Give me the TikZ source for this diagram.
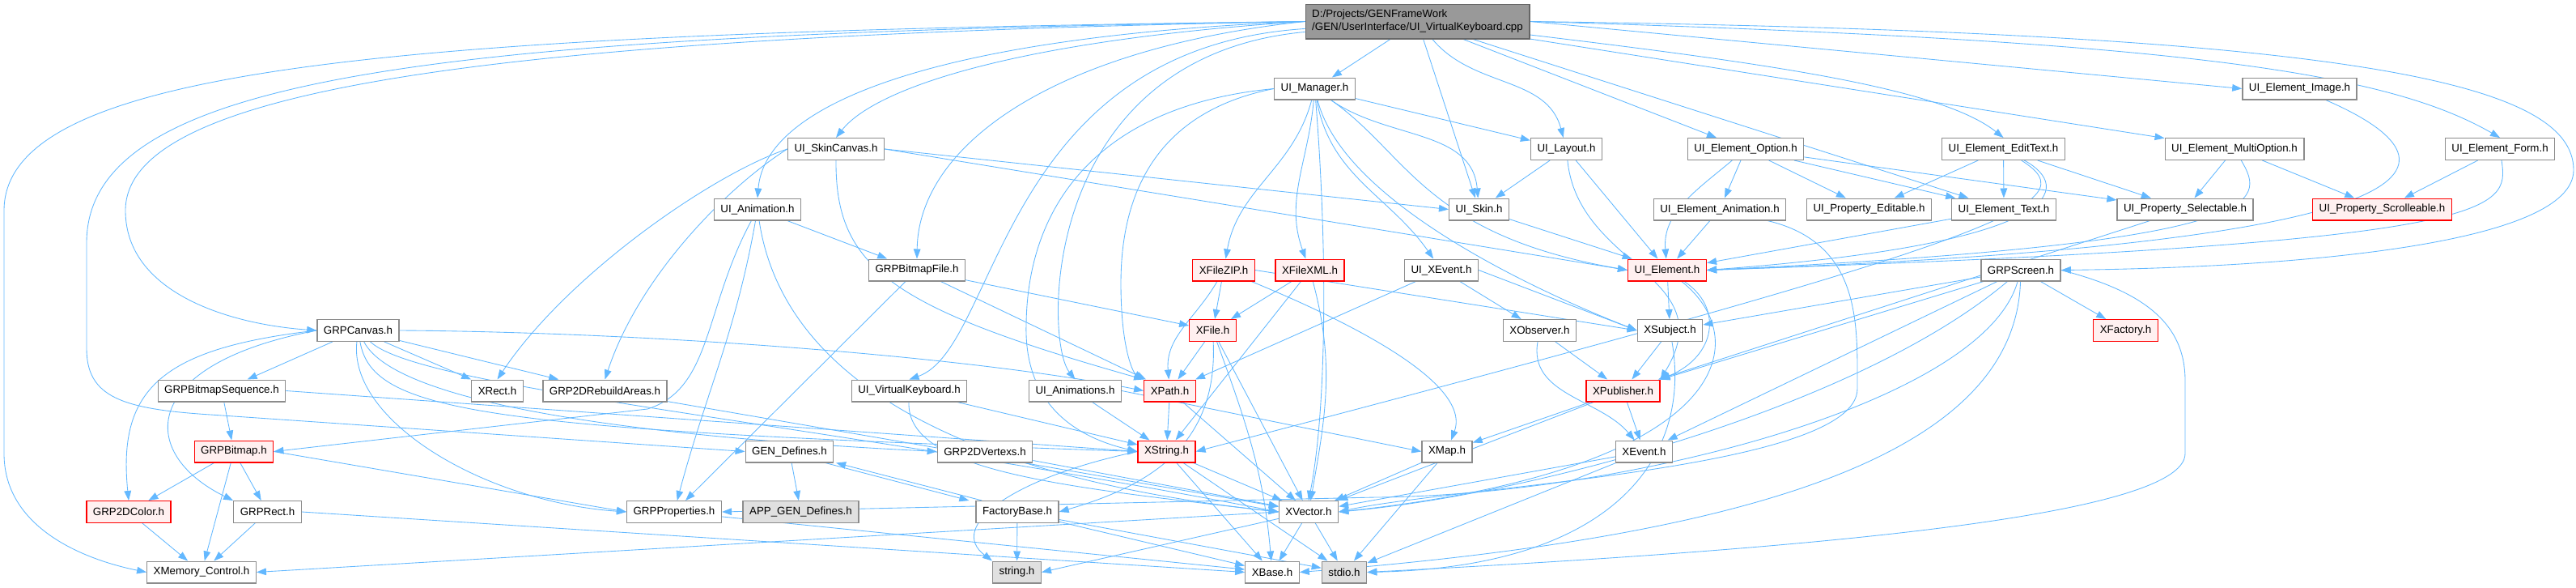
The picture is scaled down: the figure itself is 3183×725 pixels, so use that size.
\documentclass[tikz,border=0pt]{standalone}
\usepackage{fontspec}
\setmainfont{Liberation Sans}
\usetikzlibrary{arrows.meta,backgrounds}
\definecolor{depblue}{HTML}{63B8FF}
\definecolor{boxgray}{HTML}{8C8C8C}
\definecolor{redfill}{HTML}{FFF0F0}
\definecolor{sysfill}{HTML}{E0E0E0}
\definecolor{rootfill}{HTML}{999999}
\definecolor{rootline}{HTML}{666666}

\begin{document}
\begin{tikzpicture}[x=0.75pt,y=-0.75pt,
    every node/.style={font=\fontsize{10}{12}\selectfont},
    hdr/.style={draw=boxgray, fill=white, line width=1pt, inner xsep=6pt, inner ysep=0pt, minimum height=20pt},
    hdrred/.style={hdr, draw=red, fill=redfill},
    hdrsys/.style={hdr, fill=sysfill},
    hdrroot/.style={hdr, draw=rootline, fill=rootfill, align=left, minimum height=32pt},
    dep/.style={draw=depblue, line width=0.65pt, -{Triangle[length=9pt,width=6.5pt]}}]
    \useasboundingbox (0,0) rectangle (3183,725);
    % row 0-1
    \node[hdrroot] (root) at (1751.5,26.5) {D:/Projects/GENFrameWork\\/GEN/UserInterface/UI\_VirtualKeyboard.cpp};
    \node[hdr] (mgr) at (1624.5,109.5) {UI\_Manager.h};
    \node[hdr] (elimg) at (2841.5,109.5) {UI\_Element\_Image.h};
    % row 2
    \node[hdr] (skincv) at (1033,184) {UI\_SkinCanvas.h};
    \node[hdr] (layout) at (1935.5,184) {UI\_Layout.h};
    \node[hdr] (elopt) at (2157,184) {UI\_Element\_Option.h};
    \node[hdr] (eledit) at (2475.5,184) {UI\_Element\_EditText.h};
    \node[hdr] (elmulti) at (2761,184) {UI\_Element\_MultiOption.h};
    \node[hdr] (elform) at (3089,184) {UI\_Element\_Form.h};
    % row 3
    \node[hdr] (anim) at (936,258.5) {UI\_Animation.h};
    \node[hdr] (skin) at (1827.5,258.5) {UI\_Skin.h};
    \node[hdr] (elanim) at (2125,258.5) {UI\_Element\_Animation.h};
    \node[hdr] (peditable) at (2309.5,258.5) {UI\_Property\_Editable.h};
    \node[hdr] (eltext) at (2476,258.5) {UI\_Element\_Text.h};
    \node[hdr] (pselect) at (2700,258.5) {UI\_Property\_Selectable.h};
    \node[hdrred] (pscroll) at (2943.5,258.5) {UI\_Property\_Scrolleable.h};
    % row 4
    \node[hdr] (bmpfile) at (1133,333.5) {GRPBitmapFile.h};
    \node[hdrred] (xzip) at (1512,333.5) {XFileZIP.h};
    \node[hdrred] (xxml) at (1618.5,333.5) {XFileXML.h};
    \node[hdr] (xevent) at (1781,333.5) {UI\_XEvent.h};
    \node[hdrred] (uielem) at (2060,333.5) {UI\_Element.h};
    \node[hdr] (screen) at (2497,333.5) {GRPScreen.h};
    % row 5
    \node[hdr] (canvas) at (442.5,408) {GRPCanvas.h};
    \node[hdrred] (xfile) at (1498.5,408) {XFile.h};
    \node[hdr] (xobs) at (1902.5,408) {XObserver.h};
    \node[hdr] (xsubj) at (2063.5,408) {XSubject.h};
    \node[hdrred] (xfactory) at (2626.5,408) {XFactory.h};
    % row 6
    \node[hdr] (bmpseq) at (274,482.5) {GRPBitmapSequence.h};
    \node[hdr] (xrect) at (614.5,482.5) {XRect.h};
    \node[hdr] (rebuild) at (747.5,482.5) {GRP2DRebuildAreas.h};
    \node[hdr] (vkbd) at (1123.5,482.5) {UI\_VirtualKeyboard.h};
    \node[hdr] (anims) at (1328.5,482.5) {UI\_Animations.h};
    \node[hdrred] (xpath) at (1445.5,482.5) {XPath.h};
    \node[hdrred] (xpub) at (2005.5,482.5) {XPublisher.h};
    % row 7
    \node[hdrred] (bitmap) at (289,557.5) {GRPBitmap.h};
    \node[hdr] (gendef) at (975.5,557.5) {GEN\_Defines.h};
    \node[hdr] (vertex) at (1217,557.5) {GRP2DVertexs.h};
    \node[hdrred] (xstring) at (1441.5,557.5) {XString.h};
    \node[hdr] (xmap) at (1788,557.5) {XMap.h};
    \node[hdr] (xev) at (2031.5,557.5) {XEvent.h};
    % row 8
    \node[hdrred] (color) at (159,632) {GRP2DColor.h};
    \node[hdr] (grect) at (330.5,632) {GRPRect.h};
    \node[hdr] (props) at (833,632) {GRPProperties.h};
    \node[hdrsys] (appgen) at (989.5,632) {APP\_GEN\_Defines.h};
    \node[hdr] (factory) at (1257,632) {FactoryBase.h};
    \node[hdr] (xvector) at (1617,632) {XVector.h};
    % row 9
    \node[hdr] (xmem) at (249,706.5) {XMemory\_Control.h};
    \node[hdrsys] (string) at (1256.5,706.5) {string.h};
    \node[hdr] (xbase) at (1572,706.5) {XBase.h};
    \node[hdrsys] (stdio) at (1661,706.5) {stdio.h};

    \begin{scope}[on background layer]
    % from the .cpp
    \draw[dep] (root) -- (mgr);
    \draw[dep] (root) -- (skin);
    \draw[dep] (root) to[out=-50,in=105] (layout);
    \draw[dep] (root) -- (elopt);
    \draw[dep] (root) -- (eltext);
    \draw[dep] (root) .. controls (2200,80) and (2400,110) .. (eledit.north);
    \draw[dep] (root) -- (elmulti);
    \draw[dep] (root.east) -- (elimg.west);
    \draw[dep] (root.east) .. controls (2700,50) and (2950,90) .. (elform.north);
    \draw[dep] (root.east) .. controls (2900,40) and (3180,100) .. (3180,210) .. controls (3180,300) and (2850,330) .. (screen.east);
    \draw[dep] (root.west) .. controls (1250,50) and (1080,110) .. (skincv.north);
    \draw[dep] (root.west) .. controls (1150,45) and (945,130) .. (anim.north);
    \draw[dep] (root.west) .. controls (1300,60) and (1135,180) .. (bmpfile.north);
    \draw[dep] (root) .. controls (1234,60) and (1234,430) .. (vkbd.north);
    \draw[dep] (root) .. controls (1285,70) and (1290,420) .. (anims.north);
    \draw[dep] (root.west) .. controls (600,45) and (155,110) .. (155,260) .. controls (155,360) and (280,400) .. (canvas.west);
    \draw[dep] (root.west) .. controls (500,40) and (5,80) .. (5,260) -- (5,560) .. controls (5,650) and (100,690) .. (xmem.west);
    \draw[dep] (root.west) .. controls (550,42) and (107,90) .. (107,300) -- (107,430) .. controls (107,490) and (150,505) .. (260,512) -- (gendef.west);
    % UI_Manager.h
    \draw[dep] (mgr) to[out=-105,in=80] (xzip);
    \draw[dep] (mgr) to[out=-95,in=110] (xxml);
    \draw[dep] (mgr) to[out=-80,in=125] (xevent);
    \draw[dep] (mgr) to[out=-35,in=95] (skin);
    \draw[dep] (mgr) -- (layout);
    \draw[dep] (mgr) .. controls (1740,190) and (1760,290) .. (uielem.west);
    \draw[dep] (mgr) .. controls (1660,250) and (1900,360) .. (xsubj.west);
    \draw[dep] (mgr) .. controls (1640,300) and (1640,500) .. (xvector.north);
    \draw[dep] (mgr.west) .. controls (1420,140) and (1385,250) .. (1385,350) .. controls (1385,430) and (1400,460) .. (xpath.north west);
    \draw[dep] (mgr.west) .. controls (1360,130) and (1270,250) .. (1268,400) .. controls (1265,500) and (1330,540) .. (xstring.west);
    % UI_SkinCanvas.h
    \draw[dep] (skincv.east) -- (skin.west);
    \draw[dep] (skincv.east) -- (uielem.west);
    \draw[dep] (skincv.west) .. controls (880,215) and (700,340) .. (xrect.north);
    \draw[dep] (skincv.west) .. controls (900,230) and (790,340) .. (rebuild.north);
    \draw[dep] (skincv.south) .. controls (1032,330) and (1100,380) .. (xpath.north west);
    % UI_Animation.h
    \draw[dep] (anim) -- (bmpfile);
    \draw[dep] (anim) .. controls (870,380) and (880,480) .. (800,505) -- (bitmap.east);
    \draw[dep] (anim) to[out=-100,in=75] (props);
    \draw[dep] (anim) .. controls (960,420) and (1100,580) .. (xvector.west);
    % GRPBitmapFile.h
    \draw[dep] (bmpfile) -- (props);
    \draw[dep] (bmpfile) -- (xpath);
    \draw[dep] (bmpfile) -- (xfile);
    % XFileZIP.h / XFileXML.h / UI_XEvent.h
    \draw[dep] (xzip) -- (xfile);
    \draw[dep] (xzip) to[out=-120,in=95] (xpath);
    \draw[dep] (xzip.east) -- (xsubj.west);
    \draw[dep] (xzip) .. controls (1650,390) and (1820,470) .. (xmap);
    \draw[dep] (xxml) -- (xfile);
    \draw[dep] (xxml) -- (xstring);
    \draw[dep] (xxml) to[out=-75,in=80] (xvector);
    \draw[dep] (xevent) -- (xpath);
    \draw[dep] (xevent.east) -- (xsubj.west);
    \draw[dep] (xevent) -- (xobs);
    % UI_Layout.h / UI_Skin.h
    \draw[dep] (layout) -- (skin);
    \draw[dep] (layout) -- (uielem);
    \draw[dep] (layout) .. controls (1950,330) and (2130,340) .. (xpub.north east);
    \draw[dep] (skin) -- (uielem);
    % element headers
    \draw[dep] (elopt) to[out=-140,in=95] (uielem);
    \draw[dep] (elopt) -- (elanim);
    \draw[dep] (elopt) -- (peditable);
    \draw[dep] (elopt) -- (eltext);
    \draw[dep] (elopt) -- (pselect);
    \draw[dep] (elanim) -- (uielem);
    \draw[dep] (elanim) .. controls (2300,300) and (2295,400) .. (2295,480) .. controls (2295,580) and (1800,600) .. (xvector.east);
    \draw[dep] (eledit) -- (peditable);
    \draw[dep] (eledit) -- (eltext);
    \draw[dep] (eledit) -- (pselect);
    \draw[dep] (eledit) .. controls (2560,230) and (2560,300) .. (uielem.east);
    \draw[dep] (eledit) .. controls (2580,250) and (2500,290) .. (xstring.east);
    \draw[dep] (elmulti) -- (pselect);
    \draw[dep] (elmulti) -- (pscroll);
    \draw[dep] (elmulti) .. controls (2800,250) and (2810,300) .. (uielem.east);
    \draw[dep] (elform) -- (pscroll);
    \draw[dep] (elform) .. controls (3100,260) and (3100,300) .. (uielem.east);
    \draw[dep] (elimg) .. controls (3050,200) and (3050,300) .. (uielem.east);
    \draw[dep] (eltext) -- (uielem);
    \draw[dep] (pselect) -- (xpub);
    % UI_Element.h
    \draw[dep] (uielem) -- (xsubj);
    \draw[dep] (uielem) .. controls (2130,380) and (2120,440) .. (xpub.north east);
    \draw[dep] (uielem) .. controls (2170,420) and (2140,580) .. (xvector.east);
    % GRPScreen.h
    \draw[dep] (screen) -- (xsubj);
    \draw[dep] (screen) -- (xpub);
    \draw[dep] (screen) -- (xev);
    \draw[dep] (screen) -- (xfactory);
    \draw[dep] (screen) .. controls (2300,500) and (1900,610) .. (xvector.east);
    \draw[dep] (screen) .. controls (2490,550) and (2200,660) .. (xbase.east);
    \draw[dep] (screen) .. controls (2450,500) and (2000,612) .. (1700,614) -- (props.east);
    \draw[dep] (screen.east) .. controls (2650,360) and (2700,400) .. (2700,470) -- (2700,560) .. controls (2700,640) and (2200,680) .. (stdio.east);
    % observer / subject / publisher
    \draw[dep] (xobs) -- (xpub);
    \draw[dep] (xobs) to[out=-100,in=130] (xev);
    \draw[dep] (xsubj) -- (xpub);
    \draw[dep] (xsubj) .. controls (2090,560) and (2000,700) .. (stdio.east);
    \draw[dep] (xpub) -- (xmap);
    \draw[dep] (xpub) -- (xev);
    \draw[dep] (xpub) -- (xvector);
    % XFile.h / XPath.h / XString.h
    \draw[dep] (xfile) -- (xpath);
    \draw[dep] (xfile) .. controls (1505,550) and (1420,600) .. (factory.east);
    \draw[dep] (xfile) -- (xvector);
    \draw[dep] (xfile) to[out=-70,in=95] (xbase);
    \draw[dep] (xpath) -- (xstring);
    \draw[dep] (xpath) -- (xvector);
    \draw[dep] (xstring.west) .. controls (1250,590) and (1170,650) .. (string.north west);
    \draw[dep] (xstring) -- (xvector);
    \draw[dep] (xstring) -- (xbase);
    \draw[dep] (xstring) -- (stdio);
    \draw[dep] (anims) -- (xstring);
    \draw[dep] (anims.east) -- (xmap.west);
    \draw[dep] (vkbd) -- (xstring);
    \draw[dep] (vkbd) .. controls (1120,580) and (1300,600) .. (xvector.west);
    % GRPCanvas.h
    \draw[dep] (canvas) -- (bmpseq);
    \draw[dep] (canvas) -- (xrect);
    \draw[dep] (canvas) -- (rebuild);
    \draw[dep] (canvas.west) .. controls (200,430) and (145,480) .. (color.north);
    \draw[dep] (canvas.west) .. controls (170,450) and (170,560) .. (grect.north west);
    \draw[dep] (canvas) .. controls (430,520) and (600,620) .. (props.west);
    \draw[dep] (canvas.east) .. controls (800,410) and (1200,440) .. (xpath.west);
    \draw[dep] (canvas) .. controls (460,510) and (600,530) .. (xstring.west);
    \draw[dep] (canvas) .. controls (490,500) and (800,540) .. (vertex.west);
    \draw[dep] (canvas) .. controls (520,480) and (1000,520) .. (xvector.west);
    % bitmaps and rects
    \draw[dep] (bmpseq) -- (bitmap);
    \draw[dep] (bmpseq.east) -- (xstring.west);
    \draw[dep] (bitmap) -- (color);
    \draw[dep] (bitmap) -- (grect);
    \draw[dep] (bitmap) -- (xmem);
    \draw[dep] (bitmap.east) -- (props.west);
    \draw[dep] (color) -- (xmem);
    \draw[dep] (grect) -- (xmem);
    \draw[dep] (grect.east) -- (xbase.west);
    \draw[dep] (rebuild) -- (xvector);
    \draw[dep] (vertex) -- (xvector);
    % defines and factory
    \draw[dep] (gendef) -- (appgen);
    \draw[dep] ([xshift=-8pt]gendef.south east) -- ([xshift=-6pt]factory.north west);
    \draw[dep] ([xshift=6pt]factory.north west) -- ([xshift=2pt]gendef.south east);
    \draw[dep] (factory) -- (string);
    \draw[dep] (factory) -- (xbase);
    \draw[dep] (factory) -- (stdio);
    \draw[dep] (props) -- (xbase);
    % leaves
    \draw[dep] (xmap) -- (xvector);
    \draw[dep] (xmap) -- (stdio);
    \draw[dep] (xev) -- (xvector);
    \draw[dep] (xev) -- (stdio);
    \draw[dep] (xvector) -- (xbase);
    \draw[dep] (xvector) -- (stdio);
    \draw[dep] (xvector) -- (string.east);
    \draw[dep] (xvector.west) -- (xmem.east);
    \end{scope}
\end{tikzpicture}
\end{document}
